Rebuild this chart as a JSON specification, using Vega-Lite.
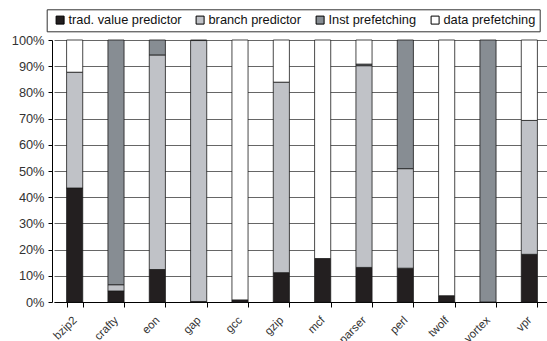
{
  "$schema": "https://vega.github.io/schema/vega-lite/v6.json",
  "width": 495,
  "height": 262,
  "autosize": {"type": "none"},
  "padding": {"left": 52, "top": 40, "right": 0, "bottom": 39},
  "background": "white",
  "config": {"view": {"stroke": null}, "font": "Liberation Sans"},
  "data": {
    "values": [
      {"bench": "bzip2", "type": "trad. value predictor", "k": 1, "pct": 43.5},
      {"bench": "bzip2", "type": "branch predictor", "k": 2, "pct": 44.2},
      {"bench": "bzip2", "type": "data prefetching", "k": 4, "pct": 12.3},
      {"bench": "crafty", "type": "trad. value predictor", "k": 1, "pct": 4.2},
      {"bench": "crafty", "type": "branch predictor", "k": 2, "pct": 2.4},
      {"bench": "crafty", "type": "Inst prefetching", "k": 3, "pct": 93.4},
      {"bench": "eon", "type": "trad. value predictor", "k": 1, "pct": 12.4},
      {"bench": "eon", "type": "branch predictor", "k": 2, "pct": 81.9},
      {"bench": "eon", "type": "Inst prefetching", "k": 3, "pct": 5.7},
      {"bench": "gap", "type": "trad. value predictor", "k": 1, "pct": 0.2},
      {"bench": "gap", "type": "branch predictor", "k": 2, "pct": 99.6},
      {"bench": "gap", "type": "data prefetching", "k": 4, "pct": 0.2},
      {"bench": "gcc", "type": "trad. value predictor", "k": 1, "pct": 0.8},
      {"bench": "gcc", "type": "data prefetching", "k": 4, "pct": 99.2},
      {"bench": "gzip", "type": "trad. value predictor", "k": 1, "pct": 11.2},
      {"bench": "gzip", "type": "branch predictor", "k": 2, "pct": 72.7},
      {"bench": "gzip", "type": "data prefetching", "k": 4, "pct": 16.1},
      {"bench": "mcf", "type": "trad. value predictor", "k": 1, "pct": 16.6},
      {"bench": "mcf", "type": "data prefetching", "k": 4, "pct": 83.4},
      {"bench": "parser", "type": "trad. value predictor", "k": 1, "pct": 13.2},
      {"bench": "parser", "type": "branch predictor", "k": 2, "pct": 77.0},
      {"bench": "parser", "type": "Inst prefetching", "k": 3, "pct": 0.6},
      {"bench": "parser", "type": "data prefetching", "k": 4, "pct": 9.2},
      {"bench": "perl", "type": "trad. value predictor", "k": 1, "pct": 12.9},
      {"bench": "perl", "type": "branch predictor", "k": 2, "pct": 38.0},
      {"bench": "perl", "type": "Inst prefetching", "k": 3, "pct": 49.1},
      {"bench": "twolf", "type": "trad. value predictor", "k": 1, "pct": 2.4},
      {"bench": "twolf", "type": "data prefetching", "k": 4, "pct": 97.6},
      {"bench": "vortex", "type": "Inst prefetching", "k": 3, "pct": 100},
      {"bench": "vpr", "type": "trad. value predictor", "k": 1, "pct": 18.2},
      {"bench": "vpr", "type": "branch predictor", "k": 2, "pct": 51.1},
      {"bench": "vpr", "type": "data prefetching", "k": 4, "pct": 30.7}
    ]
  },
  "mark": {"type": "bar", "stroke": "#1a1a1a", "strokeWidth": 0.8},
  "encoding": {
    "x": {
      "field": "bench",
      "type": "nominal",
      "sort": null,
      "scale": {"range": [2, 498], "paddingInner": 0.61, "paddingOuter": 0.305},
      "axis": {
        "title": null,
        "labelAngle": -45,
        "tickBand": "extent",
        "domainColor": "#000",
        "tickColor": "#000",
        "tickSize": 5,
        "labelFontSize": 11.5,
        "labelColor": "#333",
        "labelPadding": 7,
        "labelOffset": -4
      }
    },
    "y": {
      "field": "pct",
      "type": "quantitative",
      "stack": "zero",
      "scale": {"domain": [0, 100]},
      "axis": {
        "title": null,
        "values": [0, 10, 20, 30, 40, 50, 60, 70, 80, 90, 100],
        "labelExpr": "datum.value + '%'",
        "gridColor": "#666",
        "domainColor": "#000",
        "tickColor": "#000",
        "tickSize": 4,
        "labelPadding": 4,
        "labelFontSize": 12.8,
        "labelColor": "#333"
      }
    },
    "order": {"field": "k", "type": "quantitative", "sort": "ascending"},
    "color": {
      "field": "type",
      "type": "nominal",
      "scale": {
        "domain": ["trad. value predictor", "branch predictor", "Inst prefetching", "data prefetching"],
        "range": ["#231f20", "#c0c2c7", "#878d93", "#ffffff"]
      },
      "legend": {
        "title": null,
        "orient": "none",
        "legendX": -5.3,
        "legendY": -30.7,
        "direction": "horizontal",
        "symbolType": "square",
        "symbolSize": 64,
        "symbolOffset": 3,
        "symbolStrokeColor": "#000",
        "symbolStrokeWidth": 1,
        "labelFontSize": 12.8,
        "labelColor": "#111",
        "strokeColor": "#333",
        "fillColor": "white",
        "padding": 4,
        "columnPadding": 9,
        "labelOffset": 2
      }
    }
  }
}
